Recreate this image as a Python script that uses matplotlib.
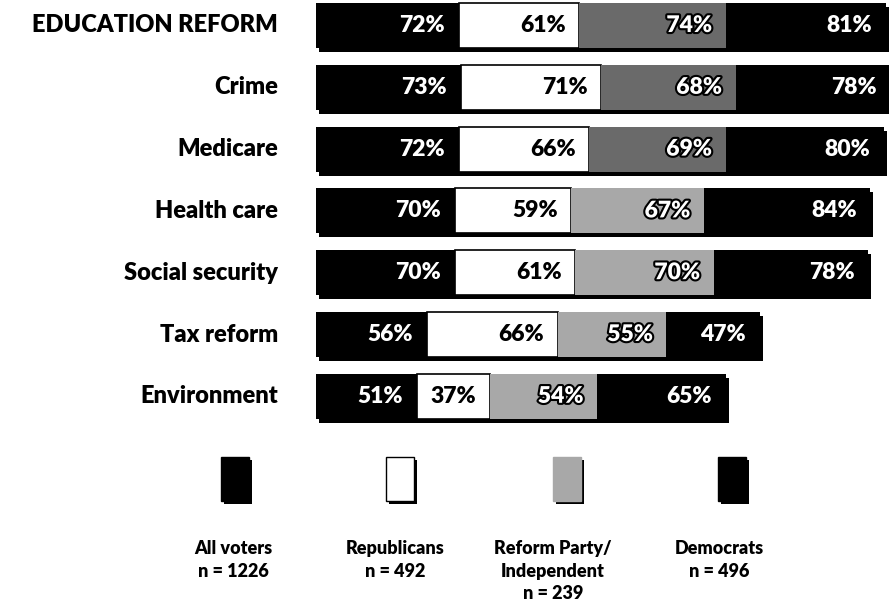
import matplotlib
matplotlib.use("Agg")
import matplotlib.pyplot as plt
import matplotlib.patches as mpatches
import matplotlib.patheffects as pe
import numpy as np

categories = ["EDUCATION REFORM", "Crime", "Medicare", "Health care",
              "Social security", "Tax reform", "Environment"]
all_voters = [72, 73, 72, 70, 70, 56, 51]
republicans = [61, 71, 66, 59, 61, 66, 37]
reform_ind = [74, 68, 69, 67, 70, 55, 54]
democrats = [81, 78, 80, 84, 78, 47, 65]
series_names = ["All voters\nn = 1226", "Republicans\nn = 492",
                "Reform Party/\nIndependent\nn = 239", "Democrats\nn = 496"]

FONT = "Lato"
WEIGHT = "heavy"
W, H = 889, 608
fig = plt.figure(figsize=(W / 100, H / 100), dpi=100)
ax = fig.add_axes([0, 0, 1, 1])
px_per_unit = 1.98
x0 = 316
ax.set_xlim((0 - x0) / px_per_unit, (W - x0) / px_per_unit)
row0, rowstep = 25.5, 61.8
ax.set_ylim((H - row0) / rowstep, (0 - row0) / rowstep)
ax.axis("off")

grey_shades = ["#6a6a6a", "#6a6a6a", "#6a6a6a", "#a8a8a8", "#a8a8a8", "#a8a8a8", "#a8a8a8"]
bar_h = 0.73
sx, sy = 3 / px_per_unit, 4 / rowstep

series = [all_voters, republicans, reform_ind, democrats]
y = np.arange(len(categories))
totals = np.sum(series, axis=0)

# shadows
ax.barh(y + sy, totals, left=sx, height=bar_h, color="black", zorder=1)

left = np.zeros(len(categories))
for si, vals in enumerate(series):
    vals = np.array(vals, dtype=float)
    if si == 0 or si == 3:
        ax.barh(y, vals, left=left, height=bar_h, color="black", zorder=2)
    elif si == 1:
        ax.barh(y, vals, left=left, height=bar_h, color="white",
                edgecolor="black", linewidth=1.2, zorder=2)
    else:
        ax.barh(y, vals, left=left, height=bar_h, color=grey_shades, zorder=2)
    for i, v in enumerate(vals):
        xr = left[i] + v - 7
        txt = f"{int(v)}%"
        kw = dict(ha="right", va="center", fontsize=16.5, fontweight=WEIGHT,
                  family=FONT, zorder=3)
        if si == 1:
            ax.text(xr, i, txt, color="black", **kw)
        elif si == 2:
            ax.text(xr, i, txt, color="white",
                    path_effects=[pe.withStroke(linewidth=3, foreground="black")], **kw)
        else:
            ax.text(xr, i, txt, color="white", **kw)
    left += vals

for i, c in enumerate(categories):
    ax.text((278 - x0) / px_per_unit, i, c, ha="right", va="center",
            fontsize=17, fontweight=WEIGHT, family=FONT, color="black")

# legend
leg_x = [235, 400, 567, 732]
leg_text_x = [233, 395, 553, 719]
box_w, box_h = 28, 44
box_top = 457
for k in range(4):
    bx = leg_x[k] - box_w / 2
    shadow = mpatches.Rectangle(((bx + 3) / W, 1 - (box_top + 3 + box_h) / H),
                                box_w / W, box_h / H, transform=fig.transFigure,
                                facecolor="black", edgecolor="none", zorder=1)
    fig.add_artist(shadow)
    if k == 1:
        fc, ec = "white", "black"
    elif k == 2:
        fc, ec = "#a8a8a8", "#a8a8a8"
    else:
        fc, ec = "black", "black"
    box = mpatches.Rectangle((bx / W, 1 - (box_top + box_h) / H),
                             box_w / W, box_h / H, transform=fig.transFigure,
                             facecolor=fc, edgecolor=ec, linewidth=1, zorder=2)
    fig.add_artist(box)
    fig.text(leg_text_x[k] / W, 1 - 540 / H, series_names[k], ha="center", va="top",
             fontsize=13, fontweight=WEIGHT, family=FONT, linespacing=1.4)

fig.savefig("out.png", dpi=100)
